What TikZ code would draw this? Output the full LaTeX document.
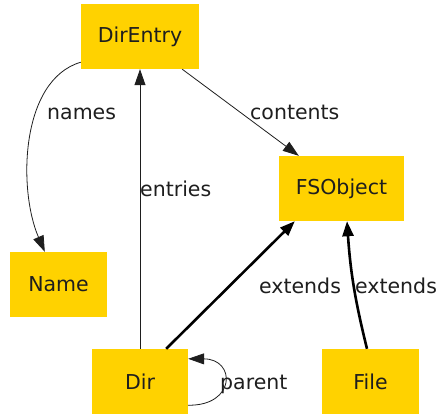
\documentclass[tikz,border=0pt]{standalone}
\usepackage{fontspec}
\setmainfont{DejaVu Sans}
\usetikzlibrary{arrows.meta}
\definecolor{boxgold}{HTML}{FFD200}
\definecolor{ink}{HTML}{1E1E1E}
\tikzset{
  cls/.style={rectangle, fill=boxgold, draw=none, inner sep=0pt,
    minimum height=65pt, text=ink, font=\fontsize{20.5}{24}\selectfont},
  lbl/.style={inner sep=0pt, anchor=base west, text=ink,
    font=\fontsize{20.5}{24}\selectfont},
  rel/.style={draw=ink, line width=0.8pt,
    -{Triangle[length=16pt,width=11pt]}},
  ext/.style={draw=black, line width=2.6pt,
    -{Triangle[length=15pt,width=11pt]}}
}
\begin{document}
\begin{tikzpicture}[x=1pt,y=-1pt]
\useasboundingbox (0,0) rectangle (444,415);

% classes
\node[cls, minimum width=118pt] (direntry) at (140,36.5)  {DirEntry};
\node[cls, minimum width=125pt] (fsobject) at (341.5,188.5) {FSObject};
\node[cls, minimum width=97pt]  (name)     at (58.5,284.5) {Name};
\node[cls, minimum width=96pt]  (dir)      at (140,381.5) {Dir};
\node[cls, minimum width=97pt]  (file)     at (370.5,381.5) {File};

% associations
\draw[rel] ([yshift=7pt]direntry.south west) .. controls (20,80) and (18,190) .. ([xshift=35pt]name.north west);
\draw[rel] (dir.north) -- (direntry.south);
\draw[rel] ([xshift=-17pt]direntry.south east) -- ([xshift=20pt]fsobject.north west);
\draw[rel] ([yshift=9pt]dir.south east) .. controls (236,406) and (236,359) .. ([yshift=-10pt]dir.north east);

% inheritance
\draw[ext] ([xshift=-22pt]dir.north east) -- ([xshift=16pt]fsobject.south west);
\draw[ext] ([xshift=-3.5pt]file.north) to[bend left=5] ([xshift=5.5pt]fsobject.south);

% edge labels
\node[lbl] (lnames)    at (47,119)  {names};
\node[lbl] (lcontents) at (250,119) {contents};
\node[lbl] (lentries)  at (140,196) {entries};
\node[lbl] (lext1)     at (259,293) {extends};
\node[lbl] (lext2)     at (355,293) {extends};
\node[lbl] (lparent)   at (220,389) {parent};
\end{tikzpicture}
\end{document}
